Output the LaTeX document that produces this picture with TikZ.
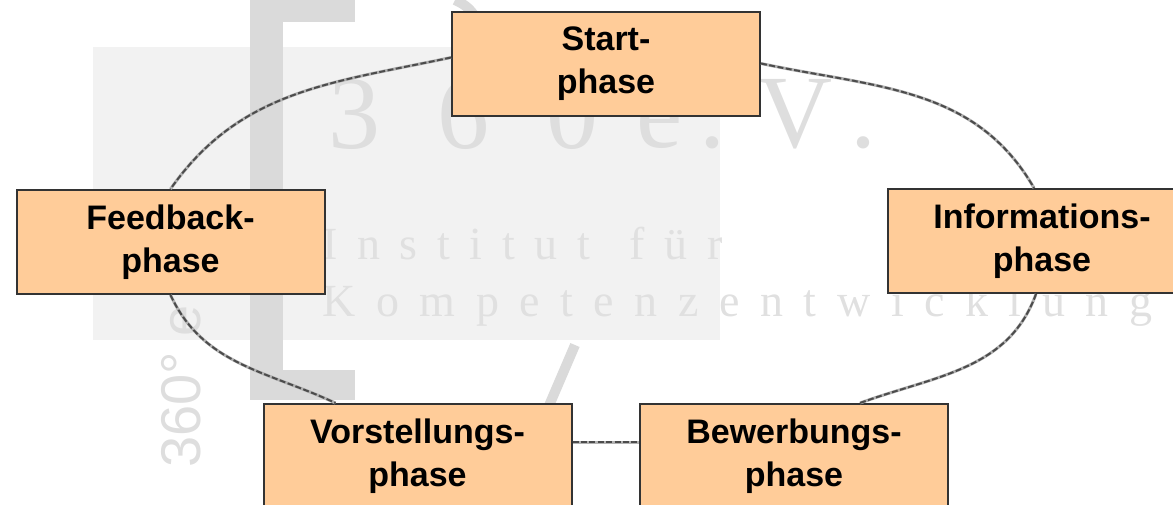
\documentclass[tikz,border=0pt]{standalone}
\usepackage{fontspec}
\setmainfont{Liberation Sans}
\newfontfamily\wmserif{Liberation Serif}
\usetikzlibrary{positioning}
\definecolor{phasefill}{HTML}{FFCC99}
\definecolor{wmgray}{HTML}{DADADA}
\definecolor{wmlight}{HTML}{F2F2F2}

\begin{document}
\begin{tikzpicture}[x=0.5pt,y=-0.5pt,
    phase/.style={draw=black!80,line width=1pt,fill=phasefill,minimum width=154pt,minimum height=52pt,
      align=center,font=\fontsize{17}{21.5}\selectfont\bfseries,inner sep=0pt},
    link/.style={draw=black!70,line width=1pt,dash pattern=on 3pt off 1.2pt,
      preaction={draw=black!30,line width=1.5pt}}]
    \useasboundingbox (0,0) rectangle (1173,504);
    \clip (0,0) rectangle (1173,504);
    \fill[wmlight] (93,47) rectangle (720,340);
    \fill[wmgray] (250,0) rectangle (355,22);
    \fill[wmgray] (250,0) rectangle (283,400);
    \fill[wmgray] (250,370) rectangle (355,400);
    \draw[wmgray,line width=5pt] (575,345) -- (545,415);
    \draw[wmgray,line width=5pt] (455,0) to[bend left=20] (478,22);
    \node[anchor=west,text=black!13,font=\wmserif\fontsize{52}{52}\selectfont,inner sep=0pt] (wmnum) at (328,114) {\makebox[135pt][s]{3 6 0}};
    \node[anchor=west,text=black!13,font=\wmserif\fontsize{52}{52}\selectfont,inner sep=0pt] (wmev) at (636,114) {\makebox[112pt][s]{e . V .}};
    \node[anchor=west,text=black!12,font=\wmserif\fontsize{23}{23}\selectfont,inner sep=0pt] (wminst) at (322,244) {\makebox[200pt][s]{I n s t i t u t \ f ü r}};
    \node[anchor=west,text=black!12,font=\wmserif\fontsize{23}{23}\selectfont,inner sep=0pt] (wmkomp) at (322,306) {\makebox[415pt][s]{K o m p e t e n z e n t w i c k l u n g}};
    \node[anchor=west,rotate=90,text=black!13,font=\fontsize{28}{28}\selectfont,inner sep=0pt] (wmrot) at (181,468) {360° e};
    \node[phase] (s) at (606,63.5) {Start-\\phase};
    \node[phase] (f) at (170.5,242) {Feedback-\\phase};
    \node[phase] (i) at (1042,241) {Informations-\\phase};
    \node[phase] (v) at (417.5,456) {Vorstellungs-\\phase};
    \node[phase] (b) at (794,456) {Bewerbungs-\\phase};
    \draw[link] ([yshift=3pt]s.west) to[out=192,in=55] (f.north);
    \draw[link] (s.east) to[out=-12,in=120] ([xshift=-4pt]i.north);
    \draw[link] ([xshift=-3pt]i.south) to[out=-110,in=20] ([xshift=33pt]b.north);
    \draw[link] (f.south) to[out=-65,in=155] ([xshift=-41pt]v.north);
    \draw[link] ([yshift=7pt]v.east) -- ([yshift=7pt]b.west);
\end{tikzpicture}
\end{document}
